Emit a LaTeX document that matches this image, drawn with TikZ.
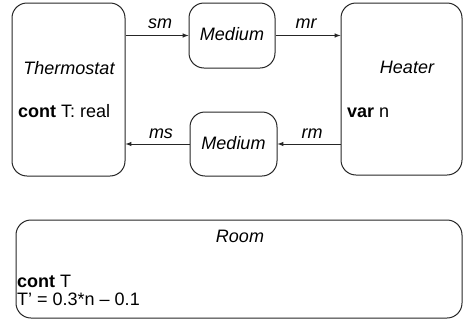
\documentclass[tikz,border=0pt]{standalone}
\usepackage{fontspec}
\setmainfont{Liberation Sans}
\begin{document}
\begin{tikzpicture}[x=1pt,y=-1pt,font=\fontsize{18}{21}\selectfont,
    box/.style={draw=black!85,line width=1pt,rounded corners=15pt,inner sep=0pt},
    txt/.style={inner sep=0pt,anchor=base},
    chan/.style={draw=black!85,line width=1pt,-latex}]
  \useasboundingbox (0,0) rectangle (464,322);
  % components
  \node[box,minimum width=113,minimum height=173] (thermo) at (68.5,89.5) {};
  \node[box,minimum width=121,minimum height=172] (heater) at (401.5,89) {};
  \node[box,minimum width=86,minimum height=65] (mtop) at (232,35.5) {};
  \node[box,minimum width=87,minimum height=64] (mbot) at (233.5,144) {};
  \node[box,minimum width=446,minimum height=98] (room) at (239,269) {};
  % texts
  \node[txt] (tname) at (69,74) {\itshape Thermostat};
  \node[txt,anchor=base west] (tvar) at (18,117) {\textbf{cont} T: real};
  \node[txt] (hname) at (407,73) {\itshape Heater};
  \node[txt,anchor=base west] (hvar) at (347,117) {\textbf{var} n};
  \node[txt] (mtoptxt) at (232,40) {\itshape Medium};
  \node[txt] (mbottxt) at (233.5,149) {\itshape Medium};
  \node[txt] (rname) at (240,242) {\itshape Room};
  \node[txt,anchor=base west] (rvar) at (17,287) {\textbf{cont} T};
  \node[txt,anchor=base west] (rode) at (17,305) {T’ = 0.3*n – 0.1};
  % channels
  \draw[chan] (thermo.east |- mtop.west) -- (mtop.west);
  \draw[chan] (mtop.east) -- (heater.west |- mtop.east);
  \draw[chan] (heater.west |- mbot.east) -- (mbot.east);
  \draw[chan] (mbot.west) -- (thermo.east |- mbot.west);
  \node[txt] (lsm) at (160,28) {\itshape sm};
  \node[txt] (lmr) at (306,28) {\itshape mr};
  \node[txt] (lms) at (161,138) {\itshape ms};
  \node[txt] (lrm) at (312,138) {\itshape rm};
\end{tikzpicture}
\end{document}
